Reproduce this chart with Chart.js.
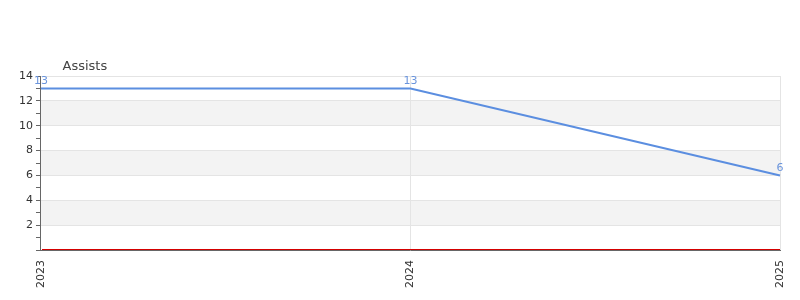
<!DOCTYPE html>
<html>
<head>
<meta charset="utf-8">
<script src="https://cdn.jsdelivr.net/npm/chart.js@4"></script>
<style>
  body { margin: 0; background: #fff; }
  #wrap { width: 800px; height: 300px; }
</style>
</head>
<body>
<div id="wrap"><canvas id="myChart"></canvas></div>
<script>
'use strict';
let years = ['2023', '2024', '2025'];
let assists = [13, 13, 6];
let seriesName = 'Assists';
let bandStarts = [2, 6, 10];

// grey bands between some grid lines
let bandsPlugin = {
    id: 'bands',
    beforeDraw(chart) {
        let ctx = chart.ctx;
        let area = chart.chartArea;
        let y = chart.scales.y;
        ctx.save();
        ctx.fillStyle = '#f3f3f3';
        for (let i = 0; i < bandStarts.length; i++) {
            let top = y.getPixelForValue(bandStarts[i] + 2);
            let bottom = y.getPixelForValue(bandStarts[i]);
            ctx.fillRect(area.left, top, area.right - area.left, bottom - top);
        }
        ctx.restore();
    }
};

// red zero line sitting just above the x axis
let zeroLine = {
    id: 'zeroLine',
    afterDraw(chart) {
        let ctx = chart.ctx;
        let area = chart.chartArea;
        let y0 = Math.round(chart.scales.y.getPixelForValue(0) - 0.5) - 0.5;
        ctx.save();
        ctx.strokeStyle = '#d40000';
        ctx.lineWidth = 1;
        ctx.beginPath();
        ctx.moveTo(area.left + 1, y0);
        ctx.lineTo(area.right, y0);
        ctx.stroke();
        ctx.restore();
    }
};

let legendShift = {
    id: 'legendShift',
    afterLayout(chart) {
        chart.legend.left += 37;
        chart.legend.top += 7;
    }
};

let valueLabels = {
    id: 'valueLabels',
    afterDatasetsDraw(chart) {
        let ctx = chart.ctx;
        let meta = chart.getDatasetMeta(0);
        ctx.save();
        ctx.font = '11px "DejaVu Sans"';
        ctx.fillStyle = '#6a94dc';
        ctx.textAlign = 'center';
        ctx.textBaseline = 'bottom';
        meta.data.forEach(function (pt, i) {
            ctx.fillText(String(assists[i]), pt.x, pt.y - 2);
        });
        ctx.restore();
    }
};

let ctx = document.getElementById('myChart').getContext('2d');
let myChart = new Chart(ctx, {
    type: 'line',
    data: {
        labels: years,
        datasets: [{
            label: seriesName,
            data: assists,
            borderColor: '#5b8ee0',
            borderWidth: 2,
            pointRadius: 0,
            tension: 0,
            fill: false
        }]
    },
    options: {
        responsive: true,
        maintainAspectRatio: false,
        animation: false,
        layout: { padding: { top: 50, right: 20, left: 16, bottom: 2 } },
        plugins: {
            legend: {
                align: 'start',
                labels: {
                    boxWidth: 0,
                    boxHeight: 0,
                    color: '#444',
                    font: { family: 'DejaVu Sans', size: 13 },
                    padding: 3
                }
            },
            tooltip: { enabled: false }
        },
        scales: {
            x: {
                offset: false,
                afterFit: function (scale) {
                    scale.paddingRight = 0;
                },
                grid: {
                    color: '#e4e4e4',
                    drawTicks: false
                },
                border: { color: '#666' },
                ticks: {
                    color: '#333',
                    font: { family: 'DejaVu Sans', size: 11 },
                    maxRotation: 90,
                    minRotation: 90,
                    padding: 10
                }
            },
            y: {
                min: 0,
                max: 14,
                ticks: {
                    stepSize: 1,
                    autoSkip: false,
                    color: '#333',
                    font: { family: 'DejaVu Sans', size: 11 },
                    callback: function (v) {
                        return (v % 2 === 0 && v !== 0) ? v : '';
                    }
                },
                grid: {
                    color: function (c) {
                        if (c.tick.value === 0) return 'rgba(0,0,0,0)';
                        return c.tick.value % 2 === 0 ? '#e4e4e4' : 'rgba(0,0,0,0)';
                    },
                    tickColor: '#666',
                    tickLength: 5
                },
                border: { color: '#666' }
            }
        }
    },
    plugins: [bandsPlugin, zeroLine, legendShift, valueLabels]
});
</script>
</body>
</html>
